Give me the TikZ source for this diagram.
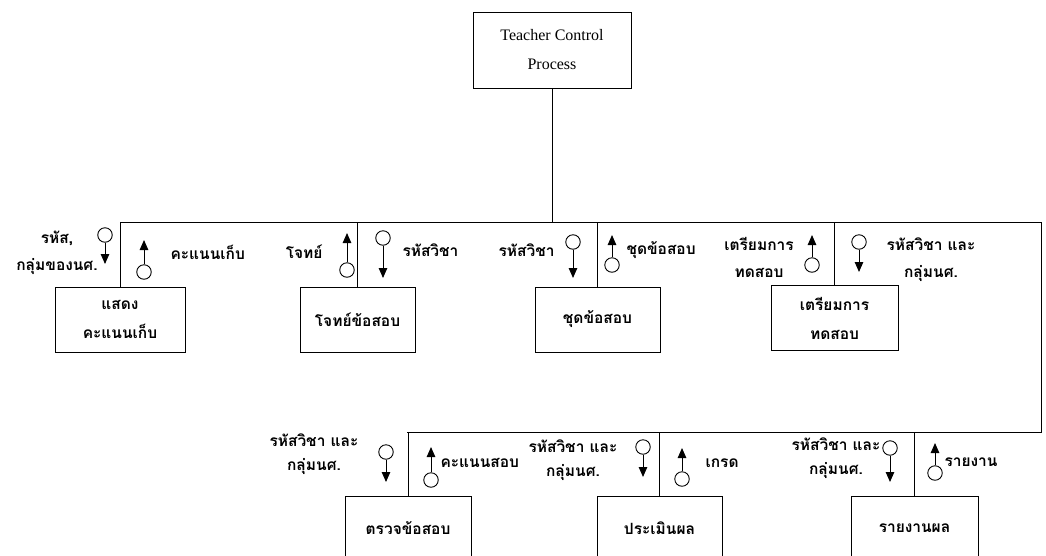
\documentclass[tikz,border=0pt]{standalone}
\usepackage{fontspec}
\setmainfont{Liberation Serif}
\newfontfamily\thaifont[Script=Thai]{Loma}
\usetikzlibrary{arrows.meta}

\begin{document}
\begin{tikzpicture}[x=1pt,y=-1pt,line width=1pt,
  proc/.style={draw, inner sep=0pt, minimum height=65pt, align=center,
    font=\thaifont\bfseries\fontsize{15.5}{29}\selectfont},
  cpl/.style={draw, circle, minimum size=14.5pt, inner sep=0pt, line width=0.9pt},
  flow/.style={-{Triangle[length=10pt,width=8.5pt]}},
  lbl/.style={inner sep=0pt, align=center, font=\thaifont\bfseries\fontsize{15.5}{27}\selectfont},
  lbls/.style={lbl, font=\thaifont\bfseries\fontsize{15.5}{24}\selectfont},
]
\useasboundingbox (0,0) rectangle (1046,555);
\clip (0,0) rectangle (1046,555);

% main control module
\node[draw, inner sep=0pt, minimum width=158pt, minimum height=76pt, align=center,
      font=\fontsize{16}{29}\selectfont] (top) at (552,50) {Teacher Control\\Process};

% first level of sub-modules
\node[proc, minimum width=130pt] (b1) at (120,319.5) {แสดง\\คะแนนเก็บ};
\node[proc, minimum width=115pt] (b2) at (357.5,319.5) {โจทย์ข้อสอบ};
\node[proc, minimum width=125pt] (b3) at (597.5,319.5) {ชุดข้อสอบ};
\node[proc, minimum width=127pt] (b4) at (834.5,318) {เตรียมการ\\ทดสอบ};

% second level of sub-modules
\node[proc, minimum width=126pt] (b5) at (408,528.5) {ตรวจข้อสอบ};
\node[proc, minimum width=125pt] (b6) at (659.5,528.5) {ประเมินผล};
\node[proc, minimum width=127pt] (b7) at (914.5,528.5) {รายงานผล};

% call buses
\coordinate (busL) at (120,222);
\coordinate (busR) at (1041,222);
\coordinate (lowR) at (1041,432);
\coordinate (lowL) at (407,432);
\draw (busL) -- (busR) -- (lowR) -- (lowL);
\draw (top.south) -- (top.south |- busL);
\foreach \b in {b1,b2,b3,b4} \draw (\b.north) -- (\b.north |- busL);
\foreach \b in {b5,b6,b7} \draw (\b.north) -- (\b.north |- lowL);

% data couples
\node[cpl] (c1) at (105,235) {};  \coordinate (t1) at (105,264);
\node[cpl] (c2) at (144,272) {};  \coordinate (t2) at (144,240);
\node[cpl] (c3) at (347,270) {};  \coordinate (t3) at (347,233);
\node[cpl] (c4) at (383,238) {};  \coordinate (t4) at (383,278);
\node[cpl] (c5) at (573,242) {};  \coordinate (t5) at (573,278);
\node[cpl] (c6) at (612,265) {};  \coordinate (t6) at (612,235);
\node[cpl] (c7) at (812,265) {};  \coordinate (t7) at (812,235);
\node[cpl] (c8) at (859,242) {};  \coordinate (t8) at (859,272);
\node[cpl] (c9) at (386,452) {};  \coordinate (t9) at (386,482);
\node[cpl] (c10) at (431,480) {}; \coordinate (t10) at (431,447);
\node[cpl] (c11) at (643,447) {}; \coordinate (t11) at (643,477);
\node[cpl] (c12) at (682,479) {}; \coordinate (t12) at (682,448);
\node[cpl] (c13) at (890,448) {}; \coordinate (t13) at (890,482);
\node[cpl] (c14) at (935,473) {}; \coordinate (t14) at (935,443);

\foreach \i in {1,4,5,8,9,11,13} \draw[flow] (c\i.south) -- (t\i);
\foreach \i in {2,3,6,7,10,12,14} \draw[flow] (c\i.north) -- (t\i);

% couple labels
\node[lbl] (l1) at (57,253) {รหัส,\\กลุ่มของนศ.};
\node[lbl, anchor=west] (l2) at (170,252) {คะแนนเก็บ};
\node[lbl, anchor=east] (l3) at (323,252) {โจทย์};
\node[lbl, anchor=west] (l4) at (402,250) {รหัสวิชา};
\node[lbl, anchor=east] (l5) at (555,250) {รหัสวิชา};
\node[lbl, anchor=west] (l6) at (626,250) {ชุดข้อสอบ};
\node[lbl] (l7) at (759,257) {เตรียมการ\\ทดสอบ};
\node[lbl] (l8) at (931,260) {รหัสวิชา และ\\กลุ่มนศ.};
\node[lbls] (l9) at (314,454) {รหัสวิชา และ\\กลุ่มนศ.};
\node[lbl, anchor=west] (l10) at (440,463) {คะแนนสอบ};
\node[lbls] (l11) at (573,460) {รหัสวิชา และ\\กลุ่มนศ.};
\node[lbl, anchor=west] (l12) at (705,463) {เกรด};
\node[lbls] (l13) at (836,458) {รหัสวิชา และ\\กลุ่มนศ.};
\node[lbl, anchor=west] (l14) at (944,462) {รายงาน};
\end{tikzpicture}
\end{document}
